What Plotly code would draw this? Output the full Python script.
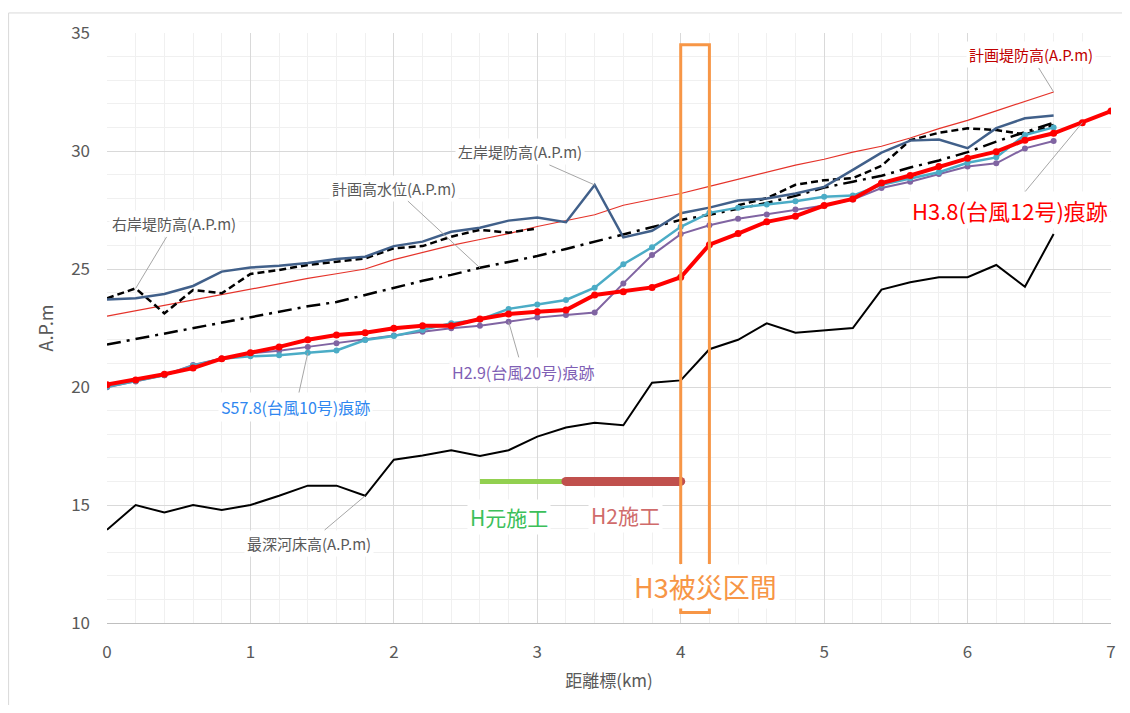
import plotly.graph_objects as go

# ---------------- data ----------------
km = [0.0, 0.2, 0.4, 0.6, 0.8, 1.0, 1.2, 1.4, 1.6, 1.8, 2.0, 2.2, 2.4, 2.6, 2.8, 3.0, 3.2,
      3.4, 3.6, 3.8, 4.0, 4.2, 4.4, 4.6, 4.8, 5.0, 5.2, 5.4, 5.6, 5.8, 6.0, 6.2, 6.4, 6.6]
km_h3 = km + [6.8, 7.0]

plan_levee = [23.0, 23.23, 23.46, 23.69, 23.92, 24.15, 24.38, 24.6, 24.8, 25.0, 25.4, 25.7,
              26.0, 26.25, 26.5, 26.8, 27.05, 27.3, 27.7, 27.95, 28.2, 28.5, 28.8, 29.1, 29.4,
              29.65, 29.95, 30.2, 30.55, 30.95, 31.3, 31.7, 32.1, 32.5]
left_levee = [23.71, 23.76, 23.94, 24.28, 24.89, 25.06, 25.14, 25.25, 25.42, 25.52, 25.97, 26.16,
              26.58, 26.75, 27.05, 27.18, 26.98, 28.56, 26.34, 26.62, 27.36, 27.6, 27.9, 27.99,
              28.2, 28.48, 29.2, 29.93, 30.44, 30.49, 30.12, 30.97, 31.39, 31.5]
right_levee = [23.76, 24.18, 23.12, 24.11, 23.97, 24.79, 24.96, 25.17, 25.31, 25.45, 25.88, 25.97,
               26.37, 26.66, 26.54, 26.72, None, None, None, None, None, None, 27.7, 28.0,
               28.57, 28.76, 28.85, 29.37, 30.46, 30.77, 30.96, 30.89, 30.7, 31.1]
plan_hwl = [21.8, 22.03, 22.26, 22.5, 22.73, 22.96, 23.19, 23.42, 23.6, 23.9, 24.2, 24.5, 24.75,
            25.05, 25.3, 25.55, 25.85, 26.16, 26.45, 26.75, 27.08, 27.3, 27.55, 27.8, 28.1, 28.45,
            28.7, 28.95, 29.3, 29.6, 29.95, 30.4, 30.8, 31.2]
mark_s57 = [20.01, 20.25, 20.5, 20.9, 21.2, 21.3, 21.35, 21.45, 21.55, 21.99, 22.16, 22.42, 22.7,
            22.85, 23.31, 23.5, 23.69, 24.21, 25.2, 25.92, 26.79, 27.38, 27.6, 27.73, 27.87,
            28.06, 28.11, 28.57, 28.85, 29.1, 29.5, 29.73, 30.68, 31.0]
mark_h29 = [19.99, 20.23, 20.5, 20.93, 21.21, 21.43, 21.54, 21.7, 21.85, 22.0, 22.18, 22.34, 22.49,
            22.6, 22.77, 22.94, 23.05, 23.16, 24.39, 25.59, 26.48, 26.85, 27.13, 27.31, 27.52,
            27.69, 27.94, 28.43, 28.7, 29.03, 29.34, 29.48, 30.11, 30.42]
mark_h38 = [20.1, 20.3, 20.54, 20.8, 21.2, 21.45, 21.7, 22.0, 22.2, 22.3, 22.49, 22.6, 22.6, 22.88,
            23.09, 23.19, 23.26, 23.9, 24.04, 24.22, 24.65, 26.03, 26.5, 27.0, 27.24, 27.69,
            27.97, 28.64, 28.96, 29.34, 29.69, 29.97, 30.46, 30.75, 31.2, 31.69]
bed = [13.95, 15.0, 14.68, 15.0, 14.79, 15.0, 15.39, 15.82, 15.82, 15.39, 16.92, 17.1, 17.32, 17.08,
       17.32, 17.9, 18.28, 18.49, 18.38, 20.18, 20.28, 21.6, 22.0, 22.7, 22.3, 22.39, 22.5, 24.13,
       24.44, 24.65, 24.65, 25.17, 24.25, 26.48]

work_level = 16.0
work_hgen = [2.6, 3.2]     # H元施工
work_h2 = [3.2, 4.0]       # H2施工
damage = [4.0, 4.2]        # H3被災区間

GRAY = "#595959"
ORANGE = "#F79646"

fig = go.Figure()

fig.add_trace(go.Scatter(x=km, y=bed, mode="lines", line=dict(color="black", width=2)))
fig.add_trace(go.Scatter(x=km, y=plan_levee, mode="lines", line=dict(color="#E5332A", width=1.2)))
fig.add_trace(go.Scatter(x=km, y=plan_hwl, mode="lines",
                         line=dict(color="black", width=2.5, dash="14px,6px,3px,6px")))
fig.add_trace(go.Scatter(x=km, y=right_levee, mode="lines",
                         line=dict(color="black", width=2.5, dash="7px,4px")))
fig.add_trace(go.Scatter(x=km, y=left_levee, mode="lines", line=dict(color="#41608A", width=2.5)))
fig.add_trace(go.Scatter(x=km, y=mark_h29, mode="lines+markers",
                         line=dict(color="#8064A2", width=2), marker=dict(size=6, color="#8064A2")))
fig.add_trace(go.Scatter(x=km, y=mark_s57, mode="lines+markers",
                         line=dict(color="#4BACC6", width=2.5), marker=dict(size=6, color="#4BACC6")))
fig.add_trace(go.Scatter(x=km_h3, y=mark_h38, mode="lines+markers",
                         line=dict(color="#FF0000", width=4), marker=dict(size=7, color="#FF0000")))

# construction bars
fig.add_trace(go.Scatter(x=work_hgen, y=[work_level] * 2, mode="lines",
                         line=dict(color="#92D050", width=5)))
fig.add_trace(go.Scatter(x=work_h2, y=[work_level] * 2, mode="lines+markers",
                         line=dict(color="#C0504D", width=9),
                         marker=dict(size=9, color="#C0504D")))

# damaged section bracket
fig.add_trace(go.Scatter(x=[damage[0], damage[0], damage[1], damage[1]], y=[12.5, 34.5, 34.5, 12.5],
                         mode="lines", line=dict(color=ORANGE, width=3)))
fig.add_trace(go.Scatter(x=[damage[0], damage[0], damage[1], damage[1]], y=[10.7, 10.45, 10.45, 10.7],
                         mode="lines", line=dict(color=ORANGE, width=3)))


def label(text, tx, ty, px=None, py=None, color=GRAY, size=15):
    d = dict(text=text, x=tx, y=ty, xref="x", yref="y", showarrow=False,
             font=dict(color=color, size=size, family="Noto Sans CJK JP"),
             bgcolor="white", borderpad=2)
    if px is not None:
        d.update(showarrow=True, x=px, y=py, ax=tx, ay=ty, axref="x", ayref="y",
                 arrowhead=0, arrowwidth=1, arrowcolor="#A6A6A6", standoff=0)
    fig.add_annotation(**d)


label("右岸堤防高(A.P.m)", 0.47, 26.91, km[1], right_levee[1])
label("S57.8(台風10号)痕跡", 1.316, 19.15, km[7], mark_s57[7], color="#2F87F0", size=16)
label("計画高水位(A.P.m)", 2.0, 28.43, km[13], plan_hwl[13])
label("左岸堤防高(A.P.m)", 2.88, 29.96, km[17], left_levee[17])
label("H2.9(台風20号)痕跡", 2.90, 20.64, km[14], mark_h29[14], color="#7F5FB5", size=16)
label("最深河床高(A.P.m)", 1.41, 13.39, km[9], bed[9])
label("計画堤防高(A.P.m)", 6.44, 34.07, km[33], plan_levee[33], color="#C00000")
label("H3.8(台風12号)痕跡", 6.295, 27.5, km_h3[34], mark_h38[34], color="#FF0000", size=22)
label("H元施工", 2.80, 14.49, color="#3CBF5A", size=21)
label("H2施工", 3.615, 14.58, color="#D06B6B", size=21)
label("H3被災区間", 4.17, 11.53, color=ORANGE, size=27)

fig.update_layout(
    width=1114, height=697,
    margin=dict(l=99, r=6, t=25, b=82),
    paper_bgcolor="white", plot_bgcolor="white",
    showlegend=False,
    font=dict(family="Noto Sans CJK JP", color=GRAY),
    shapes=[dict(type="rect", xref="paper", yref="paper", x0=-0.098, x1=1.05, y0=-0.2, y1=1.034,
                 line=dict(color="#D9D9D9", width=1), layer="below")],
)
fig.update_xaxes(range=[0, 7], dtick=1, tick0=0, showgrid=True, gridcolor="#D9D9D9", gridwidth=1,
                 minor=dict(dtick=0.2, showgrid=True, gridcolor="#F0F0F0", gridwidth=1),
                 showline=True, linecolor="#BFBFBF", linewidth=1, zeroline=False,
                 ticks="", tickfont=dict(size=17, color=GRAY), ticklabelstandoff=14,
                 title=dict(text="距離標(km)", font=dict(size=17, color=GRAY), standoff=12))
fig.update_yaxes(range=[10, 35], dtick=5, tick0=10, showgrid=True, gridcolor="#D9D9D9", gridwidth=1,
                 minor=dict(dtick=1, showgrid=True, gridcolor="#F0F0F0", gridwidth=1),
                 showline=False, zeroline=False,
                 ticks="", tickfont=dict(size=17, color=GRAY), ticklabelstandoff=16,
                 title=dict(text="A.P.m", font=dict(size=18, color=GRAY), standoff=12))

fig.write_html("out.html")
